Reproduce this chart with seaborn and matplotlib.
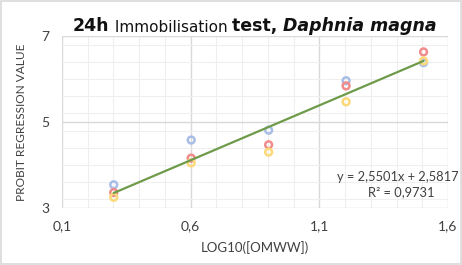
import numpy as np
import pandas as pd
import matplotlib
matplotlib.use("Agg")
import matplotlib.pyplot as plt
import seaborn as sns
from matplotlib.ticker import MultipleLocator, FixedLocator

# ---- data ----
log_conc = [0.301, 0.602, 0.903, 1.204, 1.505]
rep_blue = [3.54, 4.58, 4.81, 5.96, 6.38]
rep_red = [3.36, 4.16, 4.47, 5.84, 6.63]
rep_yellow = [3.25, 4.05, 4.30, 5.47, 6.42]
slope = 2.5501
intercept = 2.5817
r2 = 0.9731
x_ticks = [0.1, 0.6, 1.1, 1.6]
y_ticks = [3, 5, 7]

series_colors = {"A": "#A9BEE6", "B": "#F28B8B", "C": "#FBD978"}
line_color = "#6E9B4A"
text_color = "#404040"

df = pd.concat([
    pd.DataFrame({"x": log_conc, "y": rep_blue, "rep": "A"}),
    pd.DataFrame({"x": log_conc, "y": rep_red, "rep": "B"}),
    pd.DataFrame({"x": log_conc, "y": rep_yellow, "rep": "C"}),
])
fit_x = np.array([min(log_conc), max(log_conc)])
fit_df = pd.DataFrame({"x": fit_x, "y": slope * fit_x + intercept})

sns.set_theme(style="white")
plt.rcParams["font.family"] = ["Lato", "DejaVu Sans"]

fig = plt.figure(figsize=(4.62, 2.65), dpi=100)
ax = fig.add_axes([62 / 462, 1 - 208 / 265, (448 - 62) / 462, (208 - 36) / 265])

ax.xaxis.set_minor_locator(MultipleLocator(0.1))
ax.yaxis.set_minor_locator(MultipleLocator(0.4))
ax.xaxis.set_major_locator(FixedLocator(x_ticks))
ax.yaxis.set_major_locator(FixedLocator(y_ticks))
ax.grid(which="major", color="#D9D9D9", linewidth=1.0, zorder=0)
ax.grid(which="minor", color="#EFEFEF", linewidth=0.8, zorder=0)
ax.set_axisbelow(True)

for rep, sub in df.groupby("rep"):
    sns.scatterplot(data=sub, x="x", y="y", ax=ax, marker="o", s=24,
                    facecolor="none", edgecolor=series_colors[rep],
                    linewidth=1.8, zorder=3, legend=False)
sns.lineplot(data=fit_df, x="x", y="y", ax=ax, color=line_color,
             linewidth=1.6, zorder=4)

ax.set_xlim(0.1, 1.6)
ax.set_ylim(3, 7)
for s in ax.spines.values():
    s.set_visible(False)

ax.set_xticklabels([f"{v:.1f}".replace(".", ",") for v in x_ticks])
ax.set_yticklabels([str(v) for v in y_ticks])
ax.tick_params(axis="both", which="both", length=0, labelsize=10,
               colors=text_color)
ax.tick_params(axis="x", pad=9)
ax.tick_params(axis="y", pad=9)

ax.set_xlabel("LOG10([OMWW])", fontsize=9.5, color=text_color, labelpad=6)
ax.set_ylabel("PROBIT REGRESSION VALUE", fontsize=8.6, color=text_color,
              labelpad=10)

eq = f"y = {slope:.4f}x + {intercept:.4f}".replace(".", ",")
r2s = f"R² = {r2:.4f}".replace(".", ",")
fig.text(459 / 462, 1 - 177 / 265, eq, ha="right", va="center",
         fontsize=9.3, color=text_color)
fig.text(401 / 462, 1 - 192 / 265, r2s, ha="center", va="center",
         fontsize=9.3, color=text_color)

# Title composed of pieces with different styles
tfam = ["DejaVu Sans"]
t1 = fig.text(73 / 462, 1 - 31 / 265, "24h", fontsize=12.5, fontweight="bold",
              color="#111111", ha="left", va="baseline", family=tfam)
t2 = ax.annotate(" Immobilisation ", xy=(1, 0), xycoords=t1, fontsize=11,
                 color="#111111", ha="left", va="bottom", family=tfam)
t3 = ax.annotate("test, ", xy=(1, 0), xycoords=t2, fontsize=12.5,
                 fontweight="bold", color="#111111", ha="left", va="bottom",
                 family=tfam)
t4 = ax.annotate("Daphnia magna", xy=(1, 0), xycoords=t3, fontsize=12.5,
                 fontweight="bold", fontstyle="italic", color="#111111",
                 ha="left", va="bottom", family=tfam)

fig.patches.append(plt.Rectangle((0.002, 0.004), 0.996, 0.992,
                                 transform=fig.transFigure, fill=False,
                                 edgecolor="#D9D9D9", linewidth=1.2))

fig.savefig("out.png", dpi=100)
